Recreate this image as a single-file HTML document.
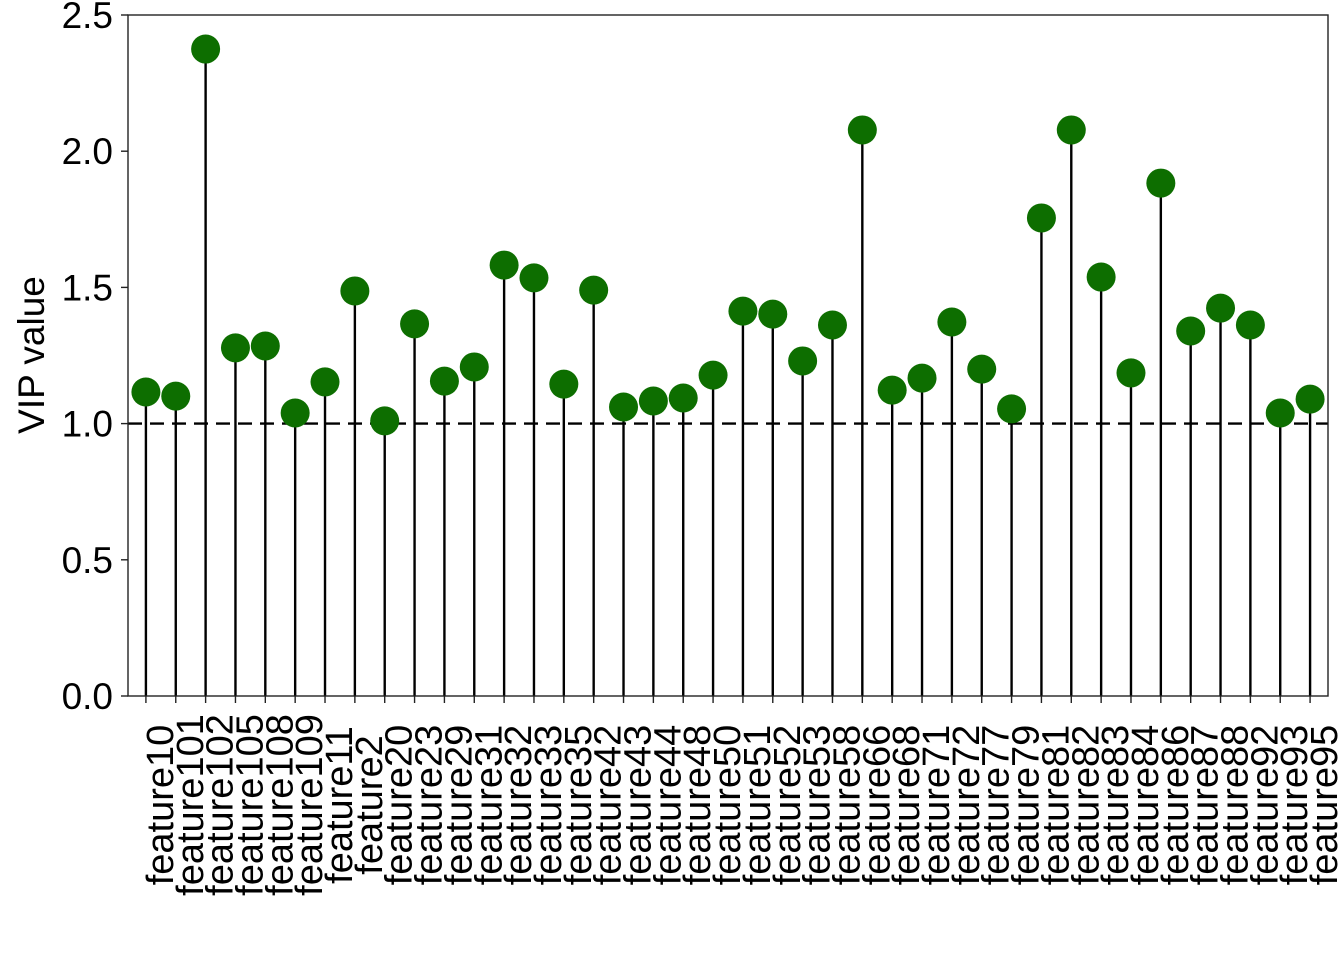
<!DOCTYPE html>
<html><head><meta charset="utf-8"><style>
html,body{margin:0;padding:0;background:#fff;}
svg{display:block;font-family:"Liberation Sans",Arial,sans-serif;}
</style></head><body>
<svg id="chart" width="1344" height="960" xmlns="http://www.w3.org/2000/svg">
<rect x="0" y="0" width="1344" height="960" fill="#fff"/>
<g id="stems"></g>
<line id="ref" stroke="#000" stroke-width="2.4" stroke-dasharray="14,8"/>
<g id="points"></g>
<rect x="128" y="15" width="1200" height="681" fill="none" stroke="#222" stroke-width="1.4"/>
<g id="yaxis"></g>
<g id="xaxis"></g>
<text x="44" y="355" font-size="37" text-anchor="middle" transform="rotate(-90 44 355)">VIP value</text>
</svg>
<script>
const categories = ["feature10","feature101","feature102","feature105","feature108","feature109","feature11","feature2","feature20","feature23","feature29","feature31","feature32","feature33","feature35","feature42","feature43","feature44","feature48","feature50","feature51","feature52","feature53","feature58","feature66","feature68","feature71","feature72","feature77","feature79","feature81","feature82","feature83","feature84","feature86","feature87","feature88","feature92","feature93","feature95"];
const vipValues = [1.116,1.101,2.375,1.278,1.285,1.039,1.153,1.487,1.010,1.366,1.156,1.208,1.582,1.535,1.145,1.490,1.061,1.083,1.094,1.178,1.413,1.402,1.230,1.362,2.078,1.123,1.167,1.373,1.200,1.054,1.755,2.078,1.538,1.186,1.883,1.340,1.424,1.362,1.039,1.090];
const yTicks = [0,0.5,1.0,1.5,2.0,2.5];
const yTickLabels = ["0.0","0.5","1.0","1.5","2.0","2.5"];
const threshold = 1.0;

const NS="http://www.w3.org/2000/svg";
const L=128,R=1328,T=15,B=696,yMax=2.5;
const step=(R-L)/(categories.length-1+1.2);
const xs=i=>L+step*(0.6+i);
const ys=v=>B-(v/yMax)*(B-T);
function mk(tag,attrs,parent){const e=document.createElementNS(NS,tag);for(const k in attrs)e.setAttribute(k,attrs[k]);parent.appendChild(e);return e;}
const stems=document.getElementById('stems'),pts=document.getElementById('points'),ya=document.getElementById('yaxis'),xa=document.getElementById('xaxis');
const ref=document.getElementById('ref');
ref.setAttribute('x1',L);ref.setAttribute('x2',R);ref.setAttribute('y1',ys(threshold));ref.setAttribute('y2',ys(threshold));
categories.forEach((c,i)=>{
  const x=xs(i);
  const s=mk('line',{x1:x,x2:x,y1:B,y2:ys(vipValues[i]),stroke:'#000','stroke-width':2.4},stems);
  
  
  const p=mk('circle',{cx:x,cy:ys(vipValues[i]),r:14.5,fill:'#0d6e00'},pts);
  
  
  const tk=mk('line',{x1:x,x2:x,y1:B,y2:B+7,stroke:'#222','stroke-width':1.4},xa);
  
  
  const t=mk('text',{x:0,y:0,'font-size':38,'text-anchor':'middle',transform:`translate(${x+27},805) rotate(-90)`},xa);
  t.textContent=c;
  
  
});
yTicks.forEach((v,i)=>{
  const y=ys(v);
  const tk=mk('line',{x1:L-7,x2:L,y1:y,y2:y,stroke:'#222','stroke-width':1.4},ya);
  
  
  const t=mk('text',{x:113,y:y+13,'font-size':37,'text-anchor':'end'},ya);
  t.textContent=yTickLabels[i];
  
  
});
</script>
</body></html>
